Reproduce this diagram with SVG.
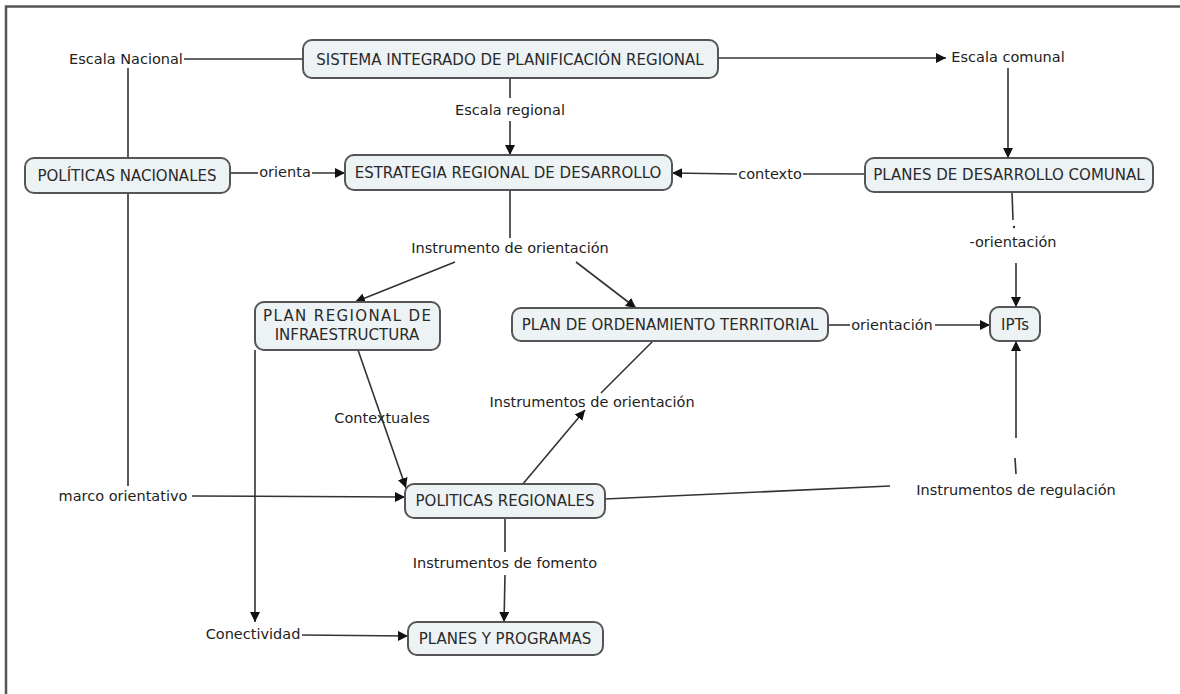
<svg xmlns="http://www.w3.org/2000/svg" width="1180" height="694" viewBox="0 0 1180 694">
<style>
.box{fill:#edf2f5;stroke:#555;stroke-width:2}
.nt{font-family:"DejaVu Sans",Verdana,sans-serif;font-size:15px;fill:#2a2a2a;text-anchor:middle}
.lt{font-family:"DejaVu Sans",Verdana,sans-serif;font-size:14.5px;fill:#222;text-anchor:middle}
.c{stroke:#333;stroke-width:1.6;fill:none}
</style>
<defs>
<marker id="ah" viewBox="0 0 10 10" refX="10" refY="5" markerWidth="10" markerHeight="10" markerUnits="userSpaceOnUse" orient="auto">
<path d="M0,0 L10,5 L0,10 z" fill="#111"/>
</marker>
</defs>
<rect width="1180" height="694" fill="#fff"/>
<path d="M6,694 V6.5 H1180" fill="none" stroke="#555" stroke-width="2.5"/>

<g id="connectors">
<line class="c" x1="184" y1="59" x2="303" y2="59"/>
<line class="c" x1="718" y1="58" x2="946" y2="58" marker-end="url(#ah)"/>
<line class="c" x1="510" y1="78" x2="510" y2="98"/>
<line class="c" x1="510" y1="121" x2="510" y2="155" marker-end="url(#ah)"/>
<line class="c" x1="128" y1="68" x2="128" y2="158"/>
<line class="c" x1="128" y1="193" x2="128" y2="486"/>
<line class="c" x1="230" y1="173" x2="258" y2="173"/>
<line class="c" x1="312" y1="173" x2="345" y2="173" marker-end="url(#ah)"/>
<line class="c" x1="1008" y1="68" x2="1008" y2="158" marker-end="url(#ah)"/>
<line class="c" x1="865" y1="174" x2="803" y2="174"/>
<line class="c" x1="737" y1="174" x2="672" y2="173" marker-end="url(#ah)"/>
<line class="c" x1="1012" y1="192" x2="1013" y2="220"/>
<circle cx="1014" cy="227" r="1.2" fill="#333"/>
<line class="c" x1="1016" y1="263" x2="1016" y2="307" marker-end="url(#ah)"/>
<line class="c" x1="510" y1="190" x2="510" y2="238"/>
<line class="c" x1="455" y1="262" x2="355" y2="302" marker-end="url(#ah)"/>
<line class="c" x1="576" y1="262" x2="636" y2="308" marker-end="url(#ah)"/>
<line class="c" x1="828" y1="325" x2="850" y2="325"/>
<line class="c" x1="935" y1="325" x2="990" y2="325" marker-end="url(#ah)"/>
<line class="c" x1="654" y1="340" x2="601" y2="393"/>
<line class="c" x1="522" y1="485" x2="585" y2="410" marker-end="url(#ah)"/>
<line class="c" x1="358" y1="350" x2="406" y2="488" marker-end="url(#ah)"/>
<line class="c" x1="192" y1="496" x2="405" y2="497" marker-end="url(#ah)"/>
<line class="c" x1="605" y1="499" x2="890" y2="486"/>
<line class="c" x1="1016" y1="438" x2="1016" y2="341" marker-end="url(#ah)"/>
<line class="c" x1="1015" y1="458" x2="1016" y2="474"/>
<line class="c" x1="505" y1="518" x2="505" y2="552"/>
<line class="c" x1="505" y1="575" x2="504" y2="622" marker-end="url(#ah)"/>
<line class="c" x1="302" y1="635" x2="408" y2="636" marker-end="url(#ah)"/>
<line class="c" x1="255" y1="350" x2="255" y2="622" marker-end="url(#ah)"/>
</g>

<g id="labels">
<text class="lt" x="126" y="64">Escala Nacional</text>
<text class="lt" x="1008" y="62">Escala comunal</text>
<text class="lt" x="510" y="115">Escala regional</text>
<text class="lt" x="285" y="177">orienta</text>
<text class="lt" x="770" y="179">contexto</text>
<text class="lt" x="1013" y="247">-orientación</text>
<text class="lt" x="510" y="253">Instrumento de orientación</text>
<text class="lt" x="892" y="330">orientación</text>
<text class="lt" x="592" y="407">Instrumentos de orientación</text>
<text class="lt" x="382" y="423">Contextuales</text>
<text class="lt" x="123" y="501">marco orientativo</text>
<text class="lt" x="1016" y="495">Instrumentos de regulación</text>
<text class="lt" x="505" y="568">Instrumentos de fomento</text>
<text class="lt" x="253" y="639">Conectividad</text>
</g>

<g id="n-sistema">
<rect class="box" x="303" y="40" width="415" height="38" rx="9"/>
<text class="nt" x="510" y="65">SISTEMA INTEGRADO DE PLANIFICACIÓN REGIONAL</text>
</g>
<g id="n-politicas-nacionales">
<rect class="box" x="25" y="158" width="205" height="35" rx="9"/>
<text class="nt" x="127" y="181">POLÍTICAS NACIONALES</text>
</g>
<g id="n-estrategia">
<rect class="box" x="345" y="155" width="327" height="35" rx="9"/>
<text class="nt" x="508" y="178">ESTRATEGIA REGIONAL DE DESARROLLO</text>
</g>
<g id="n-pladeco">
<rect class="box" x="865" y="158" width="288" height="34" rx="9"/>
<text class="nt" x="1009" y="180">PLANES DE DESARROLLO COMUNAL</text>
</g>
<g id="n-pri">
<rect class="box" x="255" y="302" width="185" height="48" rx="9"/>
<text class="nt" x="347" y="321" textLength="168" lengthAdjust="spacing">PLAN REGIONAL DE</text>
<text class="nt" x="347" y="340">INFRAESTRUCTURA</text>
</g>
<g id="n-pot">
<rect class="box" x="512" y="308" width="316" height="33" rx="9"/>
<text class="nt" x="670" y="330">PLAN DE ORDENAMIENTO TERRITORIAL</text>
</g>
<g id="n-ipts">
<rect class="box" x="990" y="307" width="50" height="34" rx="9"/>
<text class="nt" x="1015" y="330">IPTs</text>
</g>
<g id="n-politicas-regionales">
<rect class="box" x="405" y="484" width="200" height="34" rx="9"/>
<text class="nt" x="505" y="506">POLITICAS REGIONALES</text>
</g>
<g id="n-planes-programas">
<rect class="box" x="408" y="622" width="195" height="33" rx="9"/>
<text class="nt" x="505" y="644">PLANES Y PROGRAMAS</text>
</g>
</svg>
